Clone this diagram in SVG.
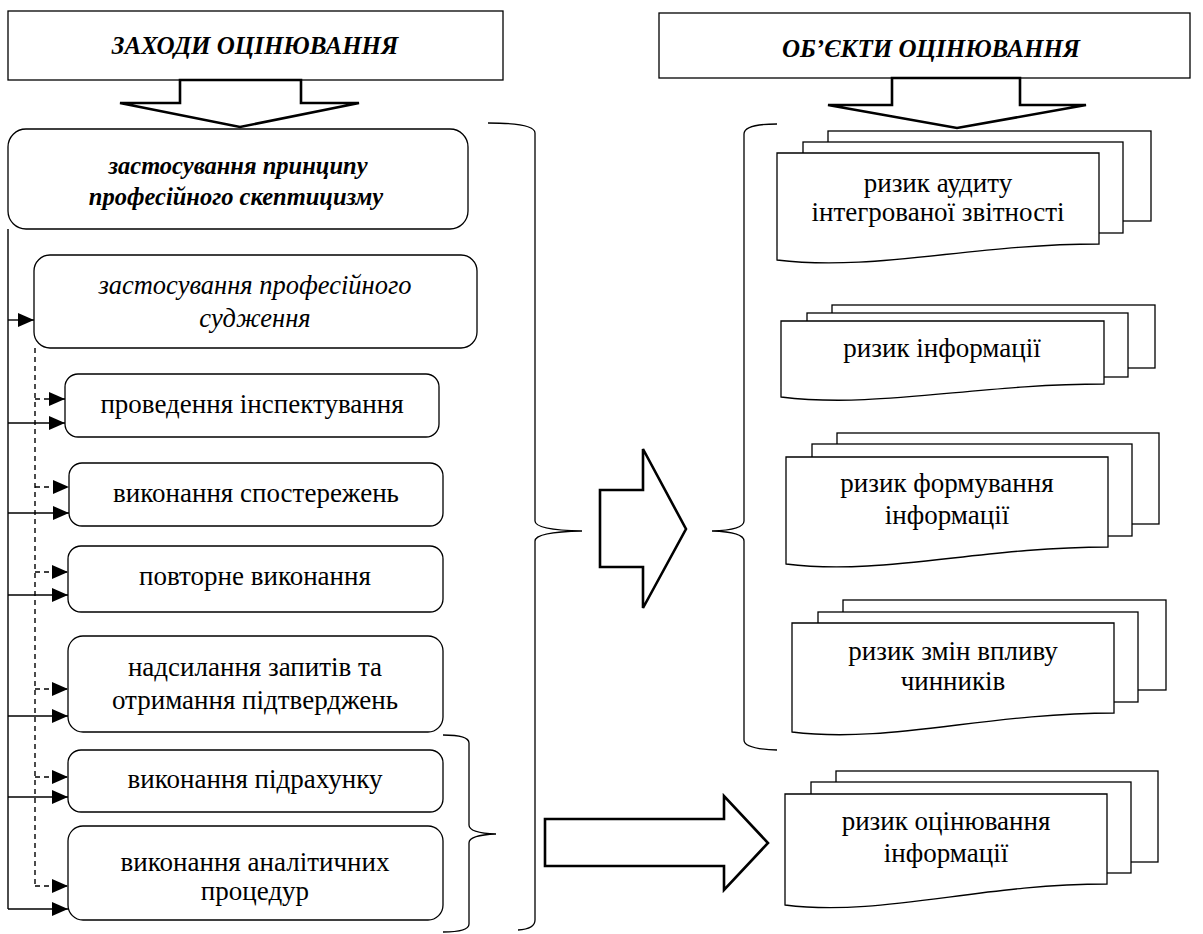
<svg xmlns="http://www.w3.org/2000/svg" width="1203" height="934" viewBox="0 0 1203 934">
<style>
.box{fill:#fff;stroke:#000;stroke-width:1.3}
.big{fill:#fff;stroke:#000;stroke-width:2.6;stroke-linejoin:miter}
.brace{fill:none;stroke:#000;stroke-width:1.3}
.ln{fill:none;stroke:#000;stroke-width:1.4}
.dash{stroke-dasharray:5 4}
.t{font-family:"Liberation Serif","Times New Roman",serif;font-size:27px;text-anchor:middle;fill:#000}
.h{font-size:25px}
.bi{font-weight:bold;font-style:italic}
.m{font-size:24.5px}
.i{font-style:italic;font-size:26.5px}
</style>
<defs>
<marker id="ah" markerUnits="userSpaceOnUse" markerWidth="16" markerHeight="14" refX="16" refY="7" orient="auto">
<path d="M0,0 L16,7 L0,14 z" fill="#000"/>
</marker>
</defs>
<rect width="1203" height="934" fill="#fff"/>

<g id="hdr-left">
<rect class="box" x="8" y="11" width="495" height="69"/>
<text class="t bi h" x="255" y="54">ЗАХОДИ ОЦІНЮВАННЯ</text>
</g>
<g id="hdr-right">
<rect class="box" x="659" y="13" width="531" height="65"/>
<text class="t bi h" x="931" y="57">ОБ’ЄКТИ ОЦІНЮВАННЯ</text>
</g>

<g id="arrow-left-down">
<polygon class="big" points="180,80 301,80 301,103 359,103 240,127 120,103 180,103"/>
</g>
<g id="arrow-right-down">
<polygon class="big" points="892,78 1020,78 1020,105 1086,105 957,128 828,105 892,105"/>
</g>

<g id="n-skept">
<rect class="box" x="8" y="129" width="460" height="100" rx="18"/>
<text class="t bi m" x="238" y="174">застосування принципу</text>
<text class="t bi m" x="236" y="205">професійного скептицизму</text>
</g>
<g id="n-judg">
<rect class="box" x="34" y="255" width="443" height="93" rx="16"/>
<text class="t i" x="255" y="294">застосування професійного</text>
<text class="t i" x="255" y="327">судження</text>
</g>
<g id="n-insp">
<rect class="box" x="65" y="374" width="374" height="63" rx="13"/>
<text class="t" x="252" y="413">проведення інспектування</text>
</g>
<g id="n-obs">
<rect class="box" x="69" y="463" width="374" height="63" rx="13"/>
<text class="t" x="256" y="502">виконання спостережень</text>
</g>
<g id="n-rep">
<rect class="box" x="68" y="546" width="375" height="66" rx="13"/>
<text class="t" x="255" y="585">повторне виконання</text>
</g>
<g id="n-req">
<rect class="box" x="68" y="636" width="375" height="96" rx="15"/>
<text class="t" x="255" y="676">надсилання запитів та</text>
<text class="t" x="255" y="709">отримання підтверджень</text>
</g>
<g id="n-count">
<rect class="box" x="68" y="750" width="375" height="62" rx="13"/>
<text class="t" x="255" y="788">виконання підрахунку</text>
</g>
<g id="n-anal">
<rect class="box" x="68" y="826" width="375" height="94" rx="15"/>
<text class="t" x="255" y="871">виконання аналітичних</text>
<text class="t" x="255" y="900">процедур</text>
</g>

<g id="connectors">
<path class="ln" d="M8,229 V909"/>
<path class="ln" d="M8,320 H34" marker-end="url(#ah)"/>
<path class="ln" d="M8,423 H65" marker-end="url(#ah)"/>
<path class="ln" d="M8,513 H69" marker-end="url(#ah)"/>
<path class="ln" d="M8,595 H68" marker-end="url(#ah)"/>
<path class="ln" d="M8,716 H68" marker-end="url(#ah)"/>
<path class="ln" d="M8,797 H68" marker-end="url(#ah)"/>
<path class="ln" d="M8,909 H68" marker-end="url(#ah)"/>
<path class="ln dash" d="M35,348 V886"/>
<path class="ln dash" d="M35,399 H65" marker-end="url(#ah)"/>
<path class="ln dash" d="M35,487 H69" marker-end="url(#ah)"/>
<path class="ln dash" d="M35,572 H68" marker-end="url(#ah)"/>
<path class="ln dash" d="M35,689 H68" marker-end="url(#ah)"/>
<path class="ln dash" d="M35,777 H68" marker-end="url(#ah)"/>
<path class="ln dash" d="M35,886 H68" marker-end="url(#ah)"/>
</g>

<g id="braces">
<path class="brace" d="M488,123 Q535,123 535,133 V521 Q535,530 582,531 Q535,532 535,541 V920 Q535,929 518,930"/>
<path class="brace" d="M777,124 Q744,124 744,134 V521 Q744,530 712,531 Q744,532 744,541 V740 Q744,749 777,750"/>
<path class="brace" d="M443,735 Q469,735 469,743 V825 Q469,833 496,834 Q469,835 469,843 V924 Q469,932 443,932"/>
</g>

<g id="arrow-mid">
<polygon class="big" points="600,490 643,490 643,449 686,529 643,608 643,567 600,567"/>
</g>
<g id="arrow-bottom">
<polygon class="big" points="545,819 724,819 724,796 768,843 724,890 724,866 545,866"/>
</g>

<g id="doc-audit">
<rect class="box" x="828" y="131" width="323" height="90"/>
<rect class="box" x="803" y="142" width="320" height="91"/>
<path class="box" d="M777,153 H1099 V244 C970,244 874,272 777,260 Z"/>
<text class="t" x="938" y="192">ризик аудиту</text>
<text class="t" x="938" y="221">інтегрованої звітності</text>
</g>
<g id="doc-info">
<rect class="box" x="832" y="305" width="323" height="63"/>
<rect class="box" x="807" y="313" width="321" height="64"/>
<path class="box" d="M781,321 H1104 V384 C975,384 878,409 781,397 Z"/>
<text class="t" x="942" y="357">ризик інформації</text>
</g>
<g id="doc-form">
<rect class="box" x="837" y="433" width="322" height="91"/>
<rect class="box" x="812" y="444" width="320" height="92"/>
<path class="box" d="M786,457 H1108 V547 C979,547 883,576 786,564 Z"/>
<text class="t" x="947" y="492">ризик формування</text>
<text class="t" x="947" y="524">інформації</text>
</g>
<g id="doc-change">
<rect class="box" x="843" y="600" width="323" height="90"/>
<rect class="box" x="818" y="612" width="320" height="90"/>
<path class="box" d="M792,623 H1114 V713 C985,713 889,744 792,732 Z"/>
<text class="t" x="953" y="660">ризик змін впливу</text>
<text class="t" x="953" y="690">чинників</text>
</g>
<g id="doc-eval">
<rect class="box" x="836" y="771" width="322" height="91"/>
<rect class="box" x="811" y="782" width="320" height="91"/>
<path class="box" d="M785,794 H1107 V884 C978,884 882,917 785,905 Z"/>
<text class="t" x="946" y="830">ризик оцінювання</text>
<text class="t" x="946" y="862">інформації</text>
</g>
</svg>
